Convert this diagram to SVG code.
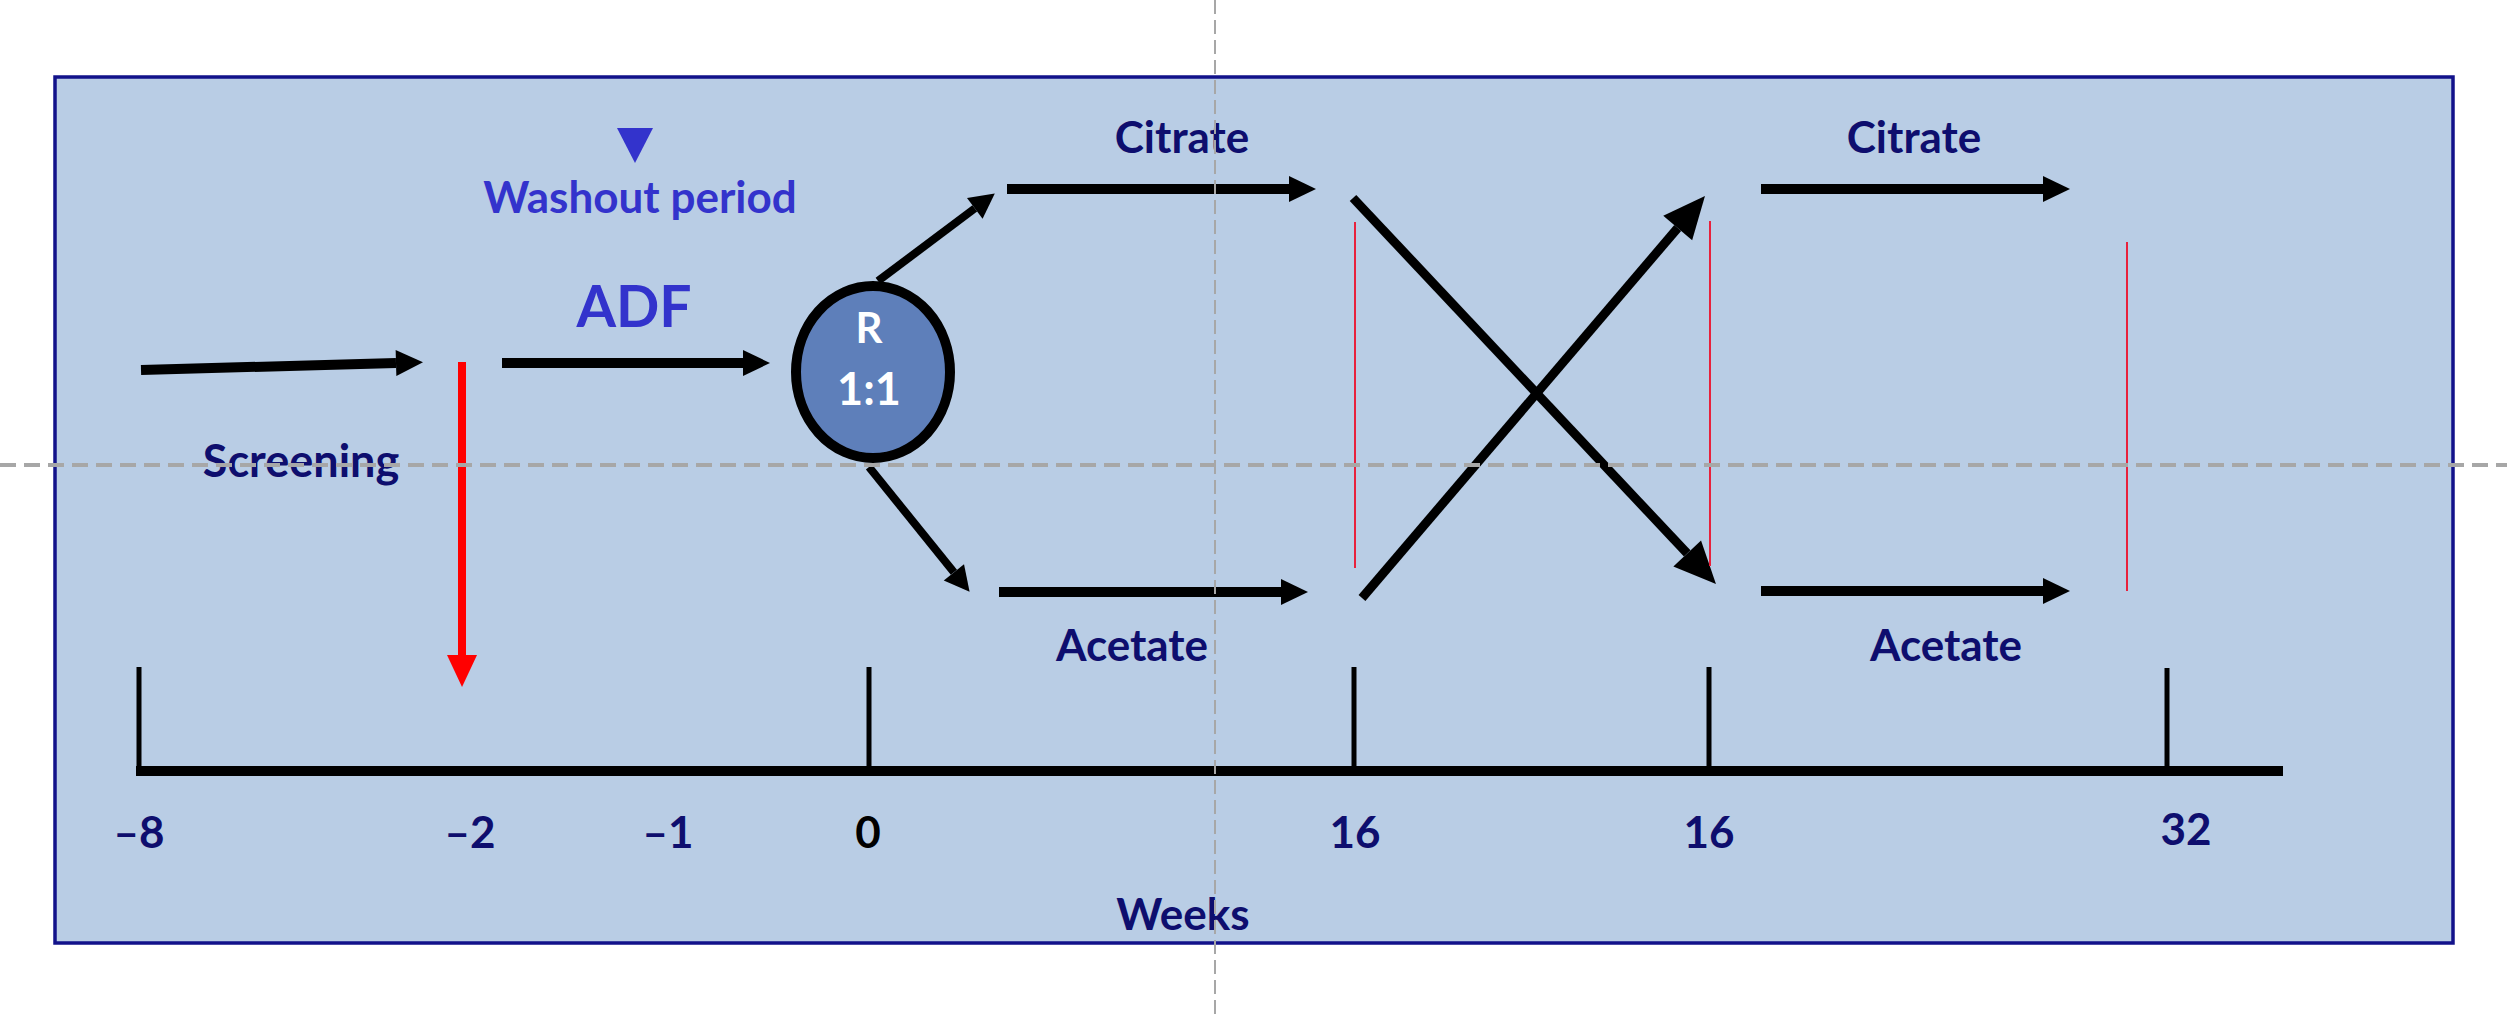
<svg xmlns="http://www.w3.org/2000/svg" width="2507" height="1015" viewBox="0 0 2507 1015">
<defs>
<style>
.t{font-family:Lato,"Open Sans","Liberation Sans",sans-serif;font-weight:bold;text-anchor:middle}
.navy{fill:#0e0e6e}
.blue{fill:#3333cc}
.wh{fill:#ffffff}
.ar{stroke:#000;fill:none;stroke-linecap:butt}
.tick{stroke:#000;stroke-width:5}
.red{stroke:#e8213c;stroke-width:2}
.guide{stroke:#a7a7a7;fill:none}
</style>
<marker id="hH" markerUnits="userSpaceOnUse" markerWidth="40" markerHeight="40" refX="0" refY="0" orient="auto" overflow="visible"><path d="M0,-13 L27,0 L0,13 Z" fill="#000"/></marker>
<marker id="hD" markerUnits="userSpaceOnUse" markerWidth="40" markerHeight="40" refX="0" refY="0" orient="auto" overflow="visible"><path d="M0,-13 L25,0 L0,13 Z" fill="#000"/></marker>
<marker id="hX" markerUnits="userSpaceOnUse" markerWidth="60" markerHeight="60" refX="0" refY="0" orient="auto" overflow="visible"><path d="M0,-19 L42,0 L0,19 Z" fill="#000"/></marker>
<marker id="hR" markerUnits="userSpaceOnUse" markerWidth="40" markerHeight="40" refX="0" refY="0" orient="auto" overflow="visible"><path d="M0,-15 L32,0 L0,15 Z" fill="#ff0000"/></marker>
</defs>
<rect x="0" y="0" width="2507" height="1015" fill="#ffffff"/>
<rect id="frame" x="55" y="77" width="2398" height="866" fill="#b9cde5" stroke="#12128a" stroke-width="3.5"/>

<g id="connectors">
<line class="ar" x1="141" y1="370" x2="396" y2="363" stroke-width="10" marker-end="url(#hH)"/>
<line class="ar" x1="502" y1="363" x2="743" y2="363" stroke-width="10" marker-end="url(#hH)"/>
<line class="ar" x1="878" y1="281" x2="974.8" y2="208.4" stroke-width="8" marker-end="url(#hD)"/>
<line class="ar" x1="869" y1="467" x2="953.9" y2="572.3" stroke-width="8" marker-end="url(#hD)"/>
<line class="ar" x1="1007" y1="189" x2="1289" y2="189" stroke-width="10" marker-end="url(#hH)"/>
<line class="ar" x1="999" y1="592" x2="1281" y2="592" stroke-width="10" marker-end="url(#hH)"/>
<line class="ar" x1="1353" y1="198" x2="1687.2" y2="553.4" stroke-width="9" marker-end="url(#hX)"/>
<line class="ar" x1="1362" y1="598" x2="1677.7" y2="228" stroke-width="9" marker-end="url(#hX)"/>
<line class="ar" x1="1761" y1="189" x2="2043" y2="189" stroke-width="10" marker-end="url(#hH)"/>
<line class="ar" x1="1761" y1="591" x2="2043" y2="591" stroke-width="10" marker-end="url(#hH)"/>
<line x1="462" y1="362" x2="462" y2="655" stroke="#ff0000" stroke-width="8" marker-end="url(#hR)"/>
</g>

<g id="red-markers">
<line class="red" x1="1355" y1="222" x2="1355" y2="568"/>
<line class="red" x1="1710" y1="221" x2="1710" y2="566"/>
<line class="red" x1="2127" y1="242" x2="2127" y2="591"/>
</g>

<g id="timeline">
<line x1="136" y1="771" x2="2283" y2="771" stroke="#000" stroke-width="10"/>
<line class="tick" x1="139" y1="667" x2="139" y2="771"/>
<line class="tick" x1="869" y1="667" x2="869" y2="771"/>
<line class="tick" x1="1354" y1="667" x2="1354" y2="771"/>
<line class="tick" x1="1709" y1="667" x2="1709" y2="771"/>
<line class="tick" x1="2167" y1="668" x2="2167" y2="771"/>
<text class="t navy" x="139" y="848" font-size="44">–8</text>
<text class="t navy" x="470" y="848" font-size="44">–2</text>
<text class="t navy" x="668" y="848" font-size="44">–1</text>
<text class="t" x="868" y="848" font-size="44" fill="#000">0</text>
<text class="t navy" x="1355" y="848" font-size="44">16</text>
<text class="t navy" x="1709" y="848" font-size="44">16</text>
<text class="t navy" x="2186" y="845" font-size="44">32</text>
<text class="t navy" x="1183" y="930" font-size="44">Weeks</text>
</g>

<g id="screening">
<text class="t navy" x="301" y="477" font-size="45">Screening</text>
</g>
<g id="washout">
<polygon points="617,128 653,128 635,163" fill="#3333cc"/>
<text class="t blue" x="640" y="213" font-size="44">Washout period</text>
</g>
<g id="adf">
<text class="t blue" x="634" y="327" font-size="57">ADF</text>
</g>
<g id="randomisation">
<ellipse cx="873" cy="372" rx="77" ry="86" fill="#5e7fba" stroke="#000" stroke-width="10"/>
<text class="t wh" x="869" y="343" font-size="42">R</text>
<text class="t wh" x="869" y="405" font-size="45">1:1</text>
</g>
<g id="citrate1"><text class="t navy" x="1182" y="153" font-size="44">Citrate</text></g>
<g id="acetate1"><text class="t navy" x="1132" y="661" font-size="44">Acetate</text></g>
<g id="citrate2"><text class="t navy" x="1914" y="153" font-size="44">Citrate</text></g>
<g id="acetate2"><text class="t navy" x="1946" y="661" font-size="44">Acetate</text></g>

<g id="guides">
<line class="guide" x1="0" y1="465" x2="2507" y2="465" stroke-width="4" stroke-dasharray="16 8"/>
<line class="guide" x1="1215" y1="0" x2="1215" y2="1015" stroke-width="2" stroke-dasharray="14 6"/>
</g>
</svg>
